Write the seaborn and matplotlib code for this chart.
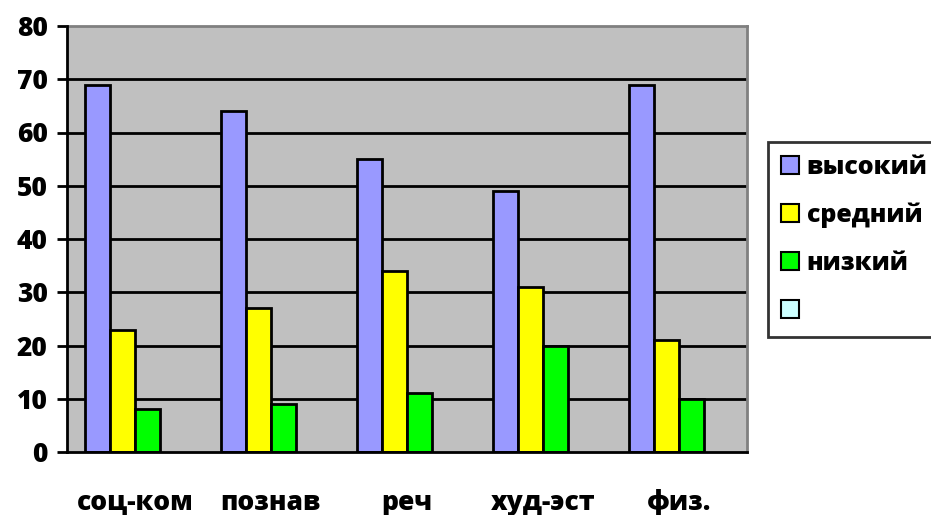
import matplotlib
matplotlib.use("Agg")
import matplotlib.pyplot as plt
import seaborn as sns
import pandas as pd
import numpy as np
from matplotlib.patches import Patch

categories = ["соц-ком", "познав", "реч", "худ-эст", "физ."]
series_names = ["высокий", "средний", "низкий", " "]
high = [69, 64, 55, 49, 69]
mid = [23, 27, 34, 31, 21]
low = [8, 9, 11, 20, 10]
empty = [np.nan] * 5
colors = ["#9999FF", "#FFFF00", "#00FF00", "#CCFFFF"]
y_ticks = [0, 10, 20, 30, 40, 50, 60, 70, 80]

rows = []
for name, vals in zip(series_names, [high, mid, low, empty]):
    for c, v in zip(categories, vals):
        rows.append({"cat": c, "series": name, "value": v})
df = pd.DataFrame(rows)

sns.set_theme(style="white")
plt.rcParams["font.family"] = ["Open Sans", "DejaVu Sans"]
plt.rcParams["font.weight"] = "heavy"
plt.rcParams["text.color"] = "black"
plt.rcParams["xtick.color"] = "black"
plt.rcParams["ytick.color"] = "black"

fig = plt.figure(figsize=(9.31, 5.15), dpi=100)
ax = fig.add_axes([67/931, 1-452/515, (747-67)/931, (452-26)/515])
ax.set_facecolor("#C0C0C0")

sns.barplot(data=df, x="cat", y="value", hue="series", order=categories,
            hue_order=series_names, palette=colors, saturation=1, width=0.736, gap=0,
            edgecolor="black", linewidth=2, ax=ax, legend=False, errorbar=None,
            zorder=3)

ax.set_ylim(0, 80)
ax.set_xlim(-0.5, 4.5)
ax.set_yticks(y_ticks)
ax.set_yticklabels([str(t) for t in y_ticks], fontsize=19, fontweight="heavy", color="black")
for t in y_ticks[1:-1]:
    ax.axhline(t, color="black", linewidth=2, zorder=1)

ax.set_xticks(range(len(categories)))
ax.set_xticklabels(categories, fontsize=19, fontweight="heavy", color="black")
ax.set_xticks(np.arange(-0.5, 5, 1), minor=True)
ax.tick_params(axis="x", which="major", length=0, pad=27)
ax.tick_params(axis="x", which="minor", length=7, width=2, color="black", direction="out")
ax.tick_params(axis="y", length=7, width=2, color="black", direction="out", pad=7, left=True)
ax.set_xlabel("")
ax.set_ylabel("")

for s in ["left", "bottom"]:
    ax.spines[s].set_color("black")
    ax.spines[s].set_linewidth(2)
    ax.spines[s].set_zorder(5)
for s in ["top", "right"]:
    ax.spines[s].set_visible(True)
    ax.spines[s].set_color("#808080")
    ax.spines[s].set_linewidth(2)

handles = [Patch(facecolor=c, edgecolor="black", linewidth=1.5) for c in colors]
leg = fig.legend(handles, series_names, loc="upper left",
                 bbox_to_anchor=(768/931, 1-142/515), frameon=True,
                 prop={"family": ["Open Sans", "DejaVu Sans"], "weight": "heavy", "size": 18},
                 handlelength=0.75, handleheight=0.75, handletextpad=0.3,
                 labelspacing=0.92, borderpad=0.5, borderaxespad=0, fancybox=False)
leg.get_frame().set_edgecolor("black")
leg.get_frame().set_linewidth(2)
for t in leg.get_texts():
    t.set_color("black")

fig.savefig("out.png", dpi=100, facecolor="white")
